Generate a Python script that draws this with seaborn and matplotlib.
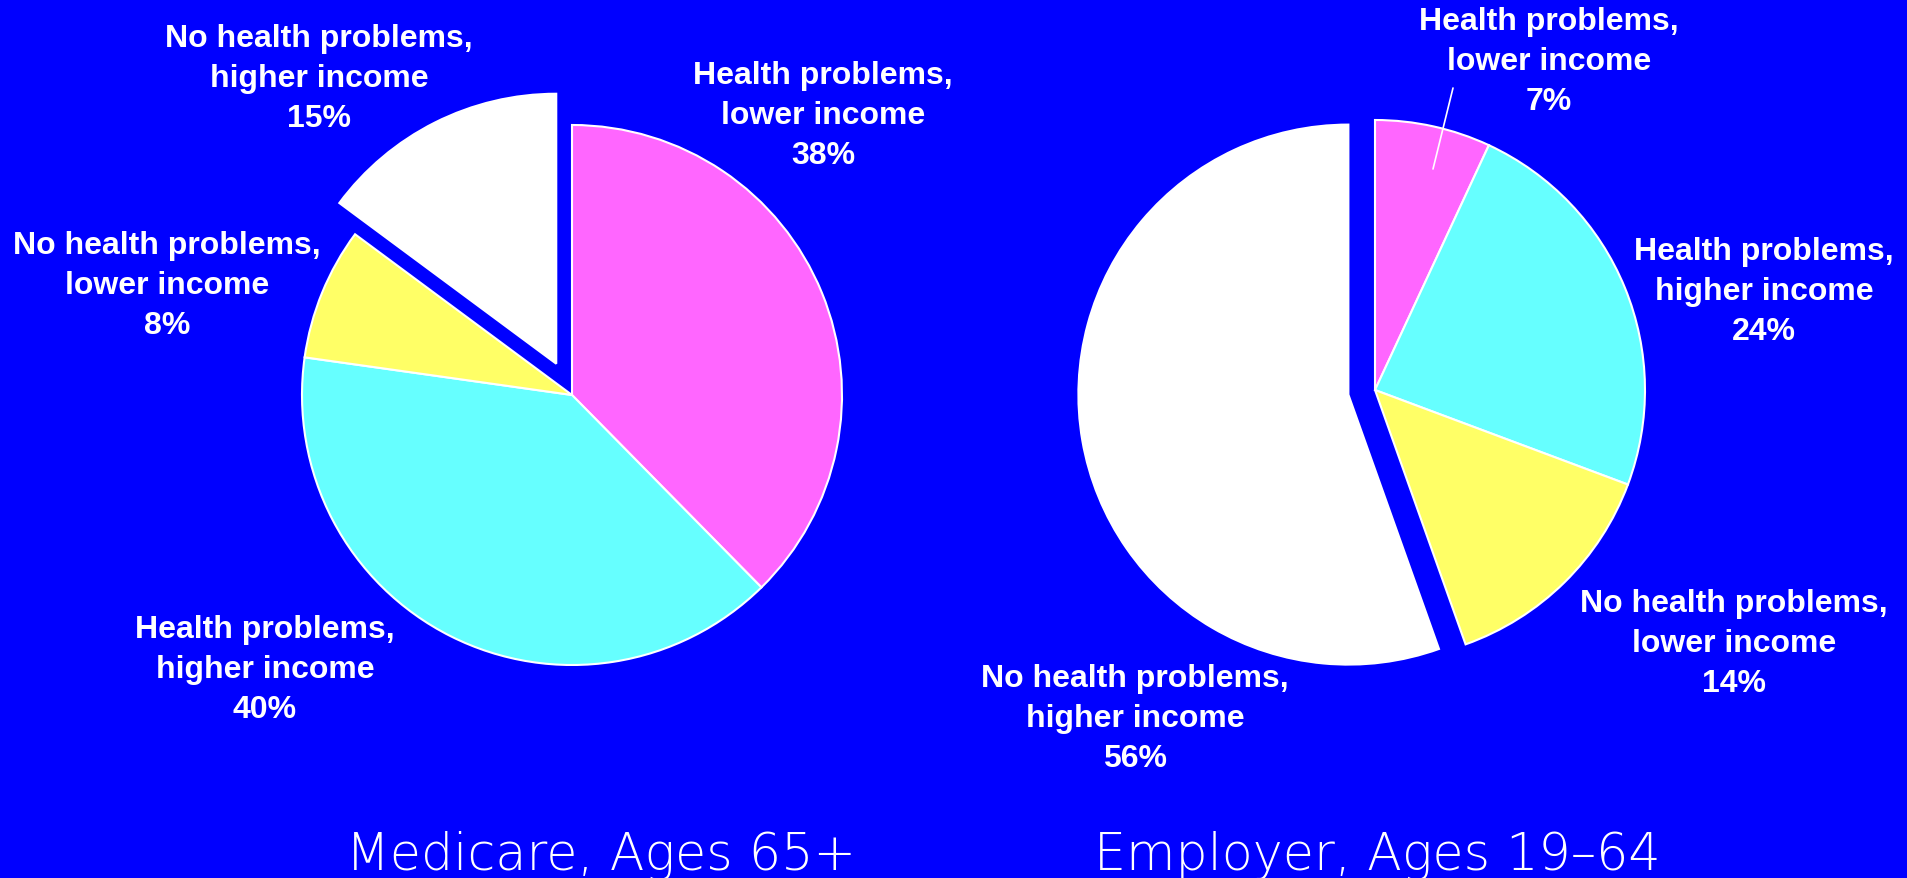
import matplotlib
matplotlib.use("Agg")
import matplotlib.pyplot as plt
import seaborn as sns

# Survey shares by health status and income, two coverage groups
groups = ["Medicare, Ages 65+", "Employer, Ages 19\u201364"]
categories = [
    "Health problems,\nlower income",
    "Health problems,\nhigher income",
    "No health problems,\nlower income",
    "No health problems,\nhigher income",
]
medicare_pct = [38, 40, 8, 15]
employer_pct = [7, 24, 14, 56]

sns.set_theme(style="white")
plt.rcParams["font.family"] = ["Liberation Sans", "DejaVu Sans"]

BG = "#0000FF"
slice_colors = ["#FF66FF", "#66FFFF", "#FFFF66", "#FFFFFF"]

W, H = 1908, 879
fig = plt.figure(figsize=(W / 100, H / 100), dpi=100, facecolor=BG)
ax = fig.add_axes([0, 0, 1, 1])
ax.set_facecolor(BG)

R = 270
pies = [
    dict(values=medicare_pct, center=(572, H - 396), explode=35,
         label_xy=[(823, H - 116), (265, H - 670), (167, H - 286), (319, H - 79)],
         title_x=601),
    dict(values=employer_pct, center=(1375, H - 391), explode=27,
         label_xy=[(1549, H - 62), (1764, H - 292), (1734, H - 644), (1135, H - 719)],
         title_x=1377),
]

wedge_style = dict(edgecolor="white", linewidth=1.5, antialiased=True)
text_style = dict(color="white", fontsize=23, fontweight="bold",
                  ha="center", va="center", linespacing=1.42)

for grp, p in zip(groups, pies):
    ax.pie(p["values"], colors=slice_colors, startangle=90, counterclock=False,
           center=p["center"], radius=R,
           explode=[0, 0, 0, p["explode"]], wedgeprops=wedge_style, frame=False)
    for cat, val, (lx, ly) in zip(categories, p["values"], p["label_xy"]):
        ax.text(lx, ly, f"{cat}\n{val}%", **text_style)
    ax.text(p["title_x"], H - 870, grp, color="white", fontsize=36.5,
            family=["DejaVu Sans"], fontweight="light",
            ha="center", va="baseline")

# leader line for the small slice on the right
ax.plot([1453, 1433], [H - 89, H - 170], color="white", linewidth=1.2)

ax.set_xlim(0, W)
ax.set_ylim(0, H)
ax.set_aspect("equal")
ax.axis("off")

fig.savefig("out.png", dpi=100, facecolor=BG)
